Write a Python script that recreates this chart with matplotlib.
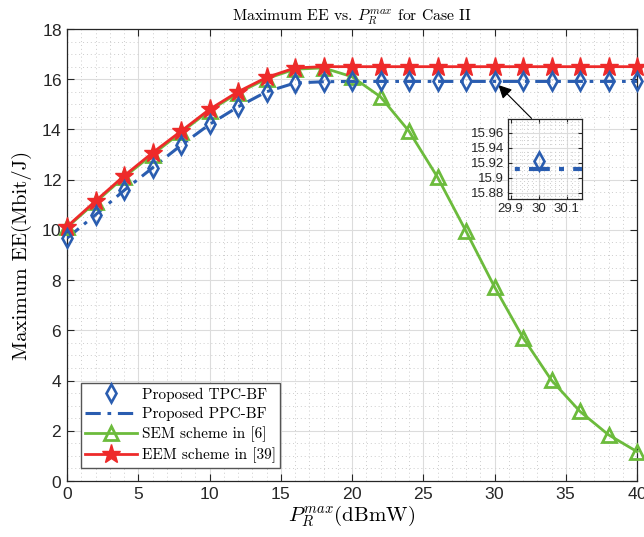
import matplotlib
matplotlib.use("Agg")
import matplotlib.pyplot as plt
from matplotlib.ticker import MultipleLocator
from matplotlib.lines import Line2D

plt.rcParams['mathtext.fontset'] = 'cm'
plt.rcParams['axes.formatter.use_mathtext'] = True

# ---- data ----
p_max = [0, 2, 4, 6, 8, 10, 12, 14, 16, 18, 20, 22, 24, 26, 28, 30, 32, 34, 36, 38, 40]
tpc_bf = [9.67, 10.6, 11.57, 12.47, 13.37, 14.2, 14.9, 15.5, 15.85, 15.9, 15.922,
          15.922, 15.922, 15.922, 15.922, 15.922, 15.922, 15.922, 15.922, 15.922, 15.922]
ppc_bf = [9.67, 10.6, 11.57, 12.47, 13.37, 14.2, 14.9, 15.5, 15.85, 15.9, 15.912,
          15.912, 15.912, 15.912, 15.912, 15.912, 15.912, 15.912, 15.912, 15.912, 15.912]
sem = [10.1, 11.1, 12.1, 13.0, 13.88, 14.75, 15.45, 16.02, 16.4, 16.45, 16.1,
       15.3, 13.93, 12.1, 9.95, 7.73, 5.71, 4.01, 2.77, 1.84, 1.17]
eem = [10.13, 11.15, 12.15, 13.07, 13.93, 14.8, 15.5, 16.07, 16.45, 16.5, 16.5,
       16.5, 16.5, 16.5, 16.5, 16.5, 16.5, 16.5, 16.5, 16.5, 16.5]

labels = ['Proposed TPC-BF', 'Proposed PPC-BF', 'SEM scheme in [6]', 'EEM scheme in [39]']

BLUE = '#2a5db0'
GREEN = '#6cbb3c'
RED = '#ee2a2a'
AXC = '#262626'
SERIF = 'cmr10'
SANS = 'Liberation Sans'
DASHDOT = (0, (5, 2.2, 1.2, 2.2))

fig = plt.figure(figsize=(6.44, 5.37), dpi=100)
ax = fig.add_axes([67/644, 1-481/537, 570/644, 452/537])

def style_axes(a, fs):
    a.grid(True, which='major', color='#dcdcdc', lw=0.8, ls='-')
    a.grid(True, which='minor', color='#cccccc', lw=0.7, ls=(0, (1, 3)))
    a.tick_params(which='both', direction='in', top=True, right=True, colors=AXC,
                  labelsize=fs)
    a.tick_params(which='major', length=5, width=0.8)
    a.tick_params(which='minor', length=0)
    for s in a.spines.values():
        s.set_color(AXC)
        s.set_linewidth(0.9)
    for t in a.get_xticklabels() + a.get_yticklabels():
        t.set_fontfamily(SANS)
    a.set_axisbelow(True)

def draw(a, lw_line=2.2):
    a.plot(p_max, ppc_bf, color=BLUE, lw=lw_line, ls=DASHDOT, zorder=3)
    a.plot(p_max, sem, color=GREEN, lw=2.0, marker='^', ms=10, mfc='none', mew=2,
           mec=GREEN, zorder=4, clip_on=False)
    a.plot(p_max, eem, color=RED, lw=2.0, marker='*', ms=14, mfc=RED, mec=RED,
           zorder=5, clip_on=False)
    a.plot(p_max, tpc_bf, ls='none', marker='d', ms=9, mfc='none', mew=1.9,
           mec=BLUE, zorder=6, clip_on=False)

draw(ax)
ax.set_xlim(0, 40)
ax.set_ylim(0, 18)
ax.xaxis.set_major_locator(MultipleLocator(5))
ax.xaxis.set_minor_locator(MultipleLocator(1))
ax.yaxis.set_major_locator(MultipleLocator(2))
ax.yaxis.set_minor_locator(MultipleLocator(0.5))
style_axes(ax, 12.5)

ax.set_title(r'Maximum EE vs. $P_R^{max}$ for Case II', fontfamily=SERIF,
             fontsize=11.3, pad=6)
ax.set_xlabel(r'$P_R^{max}$(dBmW)', fontfamily=SERIF, fontsize=15, labelpad=1)
ax.set_ylabel(r'Maximum EE(Mbit/J)', fontfamily=SERIF, fontsize=15, labelpad=7)

handles = [
    Line2D([], [], ls='none', marker='d', ms=9, mfc='none', mew=1.9, mec=BLUE),
    Line2D([], [], color=BLUE, lw=2.2, ls=DASHDOT),
    Line2D([], [], color=GREEN, lw=2.0, marker='^', ms=10, mfc='none', mew=2, mec=GREEN),
    Line2D([], [], color=RED, lw=2.0, marker='*', ms=14, mfc=RED, mec=RED),
]
leg = ax.legend(handles, labels, loc='lower left', bbox_to_anchor=(0.024, 0.0294),
                borderaxespad=0, prop={'family': SERIF, 'size': 11},
                handlelength=3.4, handletextpad=0.3, labelspacing=0.35,
                borderpad=0.3, fancybox=False, framealpha=1, edgecolor='#555555')
leg.get_frame().set_linewidth(1.0)

# arrow
ax.annotate('', xy=(30.27, 15.77), xytext=(32.6, 14.44),
            arrowprops=dict(arrowstyle='-|>', color='black', lw=0.8,
                            mutation_scale=20, shrinkA=0, shrinkB=0))

# inset
axin = fig.add_axes([508.3/644, 1-199/537, 73.4/644, 79.7/537])
draw(axin, lw_line=3.0)
axin.set_xlim(29.892, 30.154)
axin.set_ylim(15.8716, 15.978)
axin.set_xticks([29.9, 30, 30.1])
axin.set_xticklabels(['29.9', '30', '30.1'])
axin.set_yticks([15.88, 15.9, 15.92, 15.94, 15.96])
axin.set_yticklabels(['15.88', '15.9', '15.92', '15.94', '15.96'])
axin.xaxis.set_minor_locator(MultipleLocator(0.02))
axin.yaxis.set_minor_locator(MultipleLocator(0.005))
style_axes(axin, 9.5)
axin.tick_params(which='major', length=3, pad=3)
axin.patch.set_facecolor('white')

fig.savefig('out.png', dpi=100)
